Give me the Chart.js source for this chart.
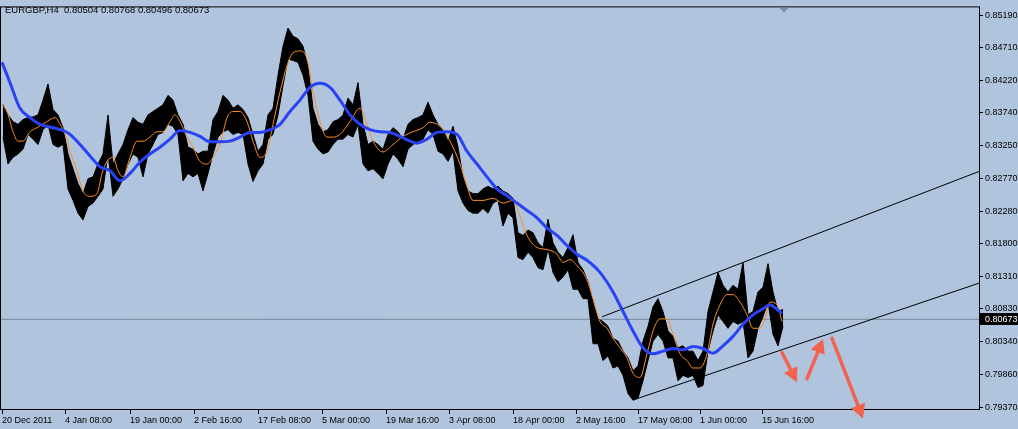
<!DOCTYPE html>
<html>
<head>
<meta charset="utf-8">
<script src="https://cdn.jsdelivr.net/npm/chart.js@4.4.1/dist/chart.umd.min.js"></script>
<style>
  html, body { margin: 0; padding: 0; background: #b0c4de; }
  canvas { display: block; }
</style>
</head>
<body>
<canvas id="chart" width="1018" height="429"></canvas>
<script>
// ─── Data ───────────────────────────────────────────────────────────────────

const symbolTitle = 'EURGBP,H4  0.80504 0.80768 0.80496 0.80673';
const lastPrice = 0.80673;

const yTicks = [0.85190, 0.84710, 0.84220, 0.83740, 0.83250, 0.82770, 0.82280,
                0.81800, 0.81310, 0.80830, 0.80340, 0.79860, 0.79370];

const xTickIdx = [2, 65, 130, 194, 258, 322, 386, 449, 513, 576, 638, 700, 762];
const xTickLabels = ['20 Dec 2011', '4 Jan 08:00', '19 Jan 00:00', '2 Feb 16:00',
  '17 Feb 08:00', '5 Mar 00:00', '19 Mar 16:00', '3 Apr 08:00', '18 Apr 00:00',
  '2 May 16:00', '17 May 08:00', '1 Jun 00:00', '15 Jun 16:00'];

// price range per group of bars (one group every 5 bars)
const hiVals = [
  0.8386, 0.8371, 0.8361, 0.8357, 0.8364, 0.8367, 0.8368, 0.8371, 0.8393, 0.8417,
  0.8379, 0.8371, 0.8352, 0.8313, 0.8291, 0.8269, 0.8254, 0.8276, 0.8279, 0.8298,
  0.8313, 0.8371, 0.8298, 0.8313, 0.8327, 0.8349, 0.8367, 0.8360, 0.8357, 0.8371,
  0.8376, 0.8381, 0.8386, 0.8400, 0.8393, 0.8371, 0.8357, 0.8323, 0.8320, 0.8313,
  0.8317, 0.8317, 0.8364, 0.8376, 0.8400, 0.8393, 0.8381, 0.8386, 0.8379, 0.8367,
  0.8342, 0.8317, 0.8327, 0.8371, 0.8381, 0.8430, 0.8473, 0.8500, 0.8488, 0.8484,
  0.8473, 0.8444, 0.8381, 0.8357, 0.8346, 0.8349, 0.8361, 0.8364, 0.8371, 0.8396,
  0.8386, 0.8419, 0.8357, 0.8327, 0.8332, 0.8327, 0.8320, 0.8342, 0.8352, 0.8346,
  0.8335, 0.8357, 0.8364, 0.8367, 0.8371, 0.8390, 0.8371, 0.8357, 0.8349, 0.8332,
  0.8354, 0.8323, 0.8279, 0.8258, 0.8254, 0.8254, 0.8261, 0.8265, 0.8261, 0.8265,
  0.8258, 0.8254, 0.8247, 0.8196, 0.8192, 0.8200, 0.8196, 0.8181, 0.8174, 0.8216,
  0.8181, 0.8167, 0.8159, 0.8174, 0.8193, 0.8152, 0.8141, 0.8123, 0.8093, 0.8068,
  0.8064, 0.8057, 0.8039, 0.8035, 0.8020, 0.8010, 0.7991, 0.7998, 0.8035, 0.8057,
  0.8086, 0.8098, 0.8079, 0.8050, 0.8042, 0.8025, 0.8028, 0.8020, 0.8020, 0.8006,
  0.8020, 0.8079, 0.8108, 0.8137, 0.8118, 0.8108, 0.8118, 0.8112, 0.8152, 0.8074,
  0.8079, 0.8108, 0.8115, 0.8150, 0.8108, 0.8079, 0.8082
];
const loVals = [
  0.8338, 0.8298, 0.8308, 0.8313, 0.8320, 0.8342, 0.8335, 0.8327, 0.8349, 0.8357,
  0.8327, 0.8323, 0.8327, 0.8261, 0.8244, 0.8225, 0.8215, 0.8235, 0.8240, 0.8250,
  0.8261, 0.8313, 0.8250, 0.8261, 0.8276, 0.8298, 0.8313, 0.8308, 0.8279, 0.8313,
  0.8327, 0.8342, 0.8345, 0.8357, 0.8354, 0.8342, 0.8273, 0.8284, 0.8279, 0.8284,
  0.8258, 0.8284, 0.8313, 0.8338, 0.8346, 0.8349, 0.8342, 0.8345, 0.8342, 0.8298,
  0.8272, 0.8288, 0.8298, 0.8335, 0.8342, 0.8371, 0.8415, 0.8454, 0.8452, 0.8449,
  0.8430, 0.8400, 0.8332, 0.8320, 0.8313, 0.8316, 0.8327, 0.8335, 0.8335, 0.8342,
  0.8338, 0.8357, 0.8298, 0.8288, 0.8291, 0.8284, 0.8276, 0.8298, 0.8313, 0.8305,
  0.8294, 0.8320, 0.8327, 0.8332, 0.8335, 0.8349, 0.8342, 0.8317, 0.8313, 0.8302,
  0.8317, 0.8258, 0.8240, 0.8229, 0.8225, 0.8225, 0.8232, 0.8225, 0.8240, 0.8244,
  0.8206, 0.8225, 0.8218, 0.8159, 0.8156, 0.8167, 0.8159, 0.8144, 0.8141, 0.8171,
  0.8137, 0.8123, 0.8130, 0.8141, 0.8112, 0.8112, 0.8098, 0.8098, 0.8031, 0.8031,
  0.8006, 0.8013, 0.7995, 0.7998, 0.7984, 0.7957, 0.7947, 0.7950, 0.7976, 0.8006,
  0.8035, 0.8045, 0.8035, 0.8010, 0.8010, 0.7976, 0.7984, 0.7981, 0.7984, 0.7966,
  0.7969, 0.8020, 0.8050, 0.8074, 0.8064, 0.8054, 0.8064, 0.8060, 0.8064, 0.8010,
  0.8020, 0.8054, 0.8071, 0.8093, 0.8045, 0.8028, 0.8057
];
const BAR_GROUP = 5;
const FIRST_BAR = 3;

// fast moving average (orange)
const fastIdx = [2, 7, 13, 18, 23, 30, 37, 43, 50, 55, 60, 65, 70, 77, 83, 90, 97, 102, 107, 113,
  118, 123, 130, 137, 143, 150, 157, 163, 170, 175, 180, 187, 193, 200, 207, 213, 220, 227, 233, 240,
  247, 253, 260, 267, 273, 280, 287, 293, 300, 307, 313, 320, 327, 333, 340, 350, 360, 367, 373, 383,
  393, 403, 413, 423, 430, 440, 450, 460, 467, 473, 483, 493, 503, 513, 520, 527, 537, 547, 557, 563,
  570, 577, 587, 593, 600, 607, 613, 620, 627, 633, 640, 647, 653, 660, 667, 673, 680, 687, 693, 700,
  707, 713, 720, 727, 733, 740, 747, 753, 760, 765, 770, 777, 782];
const fastVals = [0.8386, 0.8376, 0.8346, 0.8332, 0.8332, 0.8346, 0.8352, 0.8357, 0.8364, 0.8367,
  0.8357, 0.8342, 0.8317, 0.8288, 0.8258, 0.8250, 0.8254, 0.8284, 0.8302, 0.8308,
  0.8288, 0.8279, 0.8308, 0.8332, 0.8332, 0.8338, 0.8346, 0.8346, 0.8361, 0.8371,
  0.8361, 0.8338, 0.8323, 0.8302, 0.8298, 0.8308, 0.8327, 0.8367, 0.8376, 0.8376,
  0.8361, 0.8332, 0.8308, 0.8317, 0.8357, 0.8405, 0.8444, 0.8463, 0.8466, 0.8454,
  0.8405, 0.8361, 0.8338, 0.8338, 0.8342, 0.8361, 0.8381, 0.8357, 0.8332, 0.8316,
  0.8327, 0.8339, 0.8346, 0.8352, 0.8360, 0.8354, 0.8332, 0.8298, 0.8265, 0.8244,
  0.8244, 0.8247, 0.8240, 0.8244, 0.8221, 0.8192, 0.8174, 0.8171, 0.8164, 0.8152,
  0.8156, 0.8147, 0.8126, 0.8098, 0.8064, 0.8054, 0.8039, 0.8025, 0.8010, 0.7987,
  0.7981, 0.8016, 0.8050, 0.8068, 0.8068, 0.8045, 0.8016, 0.8006, 0.7995, 0.7995,
  0.8016, 0.8060, 0.8089, 0.8104, 0.8104, 0.8093, 0.8074, 0.8054, 0.8054, 0.8068,
  0.8093, 0.8089, 0.8064];

// slow moving average (blue)
const slowIdx = [2, 10, 20, 30, 40, 53, 63, 70, 80, 90, 100, 110, 120, 130, 140, 150, 160, 170, 180, 190,
  200, 210, 220, 230, 240, 250, 260, 270, 280, 290, 300, 310, 320, 330, 340, 350, 360, 370, 380, 390,
  400, 410, 417, 427, 437, 447, 457, 467, 477, 487, 497, 507, 517, 527, 537, 547, 557, 567, 577, 587,
  600, 613, 623, 633, 643, 653, 663, 673, 683, 693, 703, 713, 723, 733, 743, 753, 763, 770, 777, 782];
const slowVals = [0.8449, 0.8419, 0.8381, 0.8367, 0.8357, 0.8352, 0.8348, 0.8342, 0.8327, 0.8310,
  0.8294, 0.8288, 0.8273, 0.8284, 0.8301, 0.8313, 0.8323, 0.8335, 0.8348, 0.8345,
  0.8339, 0.8331, 0.8331, 0.8332, 0.8338, 0.8345, 0.8345, 0.8349, 0.8357, 0.8376,
  0.8393, 0.8412, 0.8418, 0.8412, 0.8393, 0.8371, 0.8357, 0.8349, 0.8346, 0.8345,
  0.8339, 0.8332, 0.8329, 0.8335, 0.8345, 0.8346, 0.8342, 0.8317, 0.8298, 0.8279,
  0.8261, 0.8251, 0.8240, 0.8229, 0.8218, 0.8203, 0.8192, 0.8177, 0.8164, 0.8155,
  0.8137, 0.8108, 0.8079, 0.8050, 0.8025, 0.8016, 0.8020, 0.8024, 0.8022, 0.8027,
  0.8024, 0.8017, 0.8028, 0.8042, 0.8060, 0.8074, 0.8083, 0.8089, 0.8082, 0.8076];

// trend channel (two hand-drawn lines), [bar, price]
const channelUpper = [[602, 0.8071], [979, 0.8287]];
const channelLower = [[636, 0.7949], [979, 0.8121]];

// red annotation arrows: [fromBar, fromPrice, toBar, toPrice]
const arrows = [
  [782, 0.8018, 797, 0.7974],
  [807, 0.7979, 823, 0.8038],
  [832, 0.8039, 863, 0.7920]
];
const shiftMarkBar = 784;

// ─── Scale bounds ───────────────────────────────────────────────────────────

const X_MIN = 1, X_MAX = 979;
const Y_MIN = 0.79326, Y_MAX = 0.85307;

const BG = '#b0c4de';
const FONT = '"Liberation Sans", Arial, sans-serif';

Chart.defaults.font.family = FONT;
Chart.defaults.font.size = 9;
Chart.defaults.color = '#000';

// ─── MT4 look: frame, title, price tag, arrows ──────────────────────────────

const mtDecor = {
  id: 'mtDecor',
  beforeDraw(chart) {
    const ctx = chart.ctx;
    ctx.save();
    ctx.fillStyle = BG;
    ctx.fillRect(0, 0, chart.width, chart.height);
    ctx.restore();
  },
  afterDraw(chart) {
    const ctx = chart.ctx;
    const area = chart.chartArea;
    const xs = chart.scales.x;
    const ys = chart.scales.y;

    ctx.save();
    // frame
    ctx.strokeStyle = '#000';
    ctx.lineWidth = 1;
    ctx.strokeRect(area.left - 0.5, area.top - 0.5, area.right - area.left + 1, area.bottom - area.top);

    // title
    ctx.fillStyle = '#000';
    ctx.font = '9.5px ' + FONT;
    ctx.textBaseline = 'alphabetic';
    ctx.textAlign = 'left';
    ctx.fillText(symbolTitle, 5, 13);

    // chart shift marker
    const sx = xs.getPixelForValue(shiftMarkBar);
    ctx.fillStyle = '#7d8ca6';
    ctx.beginPath();
    ctx.moveTo(sx - 5, area.top);
    ctx.lineTo(sx + 5, area.top);
    ctx.lineTo(sx, area.top + 5);
    ctx.closePath();
    ctx.fill();

    // last price tag
    const py = Math.round(ys.getPixelForValue(lastPrice));
    ctx.font = '9px ' + FONT;
    ctx.fillStyle = '#000';
    ctx.fillRect(area.right + 1, py - 6, chart.width - area.right - 1, 12);
    ctx.fillStyle = '#fff';
    ctx.textBaseline = 'middle';
    ctx.fillText(lastPrice.toFixed(5), area.right + 6, py + 0.5);

    // arrows
    ctx.strokeStyle = '#f1624f';
    ctx.fillStyle = '#f1624f';
    ctx.lineWidth = 3.5;
    ctx.lineCap = 'round';
    arrows.forEach(([b0, p0, b1, p1]) => {
      const x0 = xs.getPixelForValue(b0), y0 = ys.getPixelForValue(p0);
      const x1 = xs.getPixelForValue(b1), y1 = ys.getPixelForValue(p1);
      const ang = Math.atan2(y1 - y0, x1 - x0);
      const headLen = 14, headW = 7.5;
      const bx = x1 - headLen * Math.cos(ang), by = y1 - headLen * Math.sin(ang);
      ctx.beginPath();
      ctx.moveTo(x0, y0);
      ctx.lineTo(bx, by);
      ctx.stroke();
      ctx.beginPath();
      ctx.moveTo(x1, y1);
      ctx.lineTo(bx + headW * Math.sin(ang), by - headW * Math.cos(ang));
      ctx.lineTo(bx - headW * Math.sin(ang), by + headW * Math.cos(ang));
      ctx.closePath();
      ctx.fill();
    });
    ctx.restore();
  }
};

// ─── Datasets ───────────────────────────────────────────────────────────────

const barX = hiVals.map((_, i) => FIRST_BAR + i * BAR_GROUP);

const datasets = [
  {
    label: 'High',
    data: hiVals.map((v, i) => ({ x: barX[i], y: v })),
    borderColor: '#000',
    borderWidth: 1,
    pointRadius: 0,
    tension: 0,
    fill: false,
    order: 5
  },
  {
    label: 'Low',
    data: loVals.map((v, i) => ({ x: barX[i], y: v })),
    borderColor: '#000',
    backgroundColor: '#000',
    borderWidth: 1,
    pointRadius: 0,
    tension: 0,
    fill: '-1',
    order: 4
  },
  {
    label: 'Bid',
    data: [{ x: X_MIN, y: lastPrice }, { x: X_MAX, y: lastPrice }],
    borderColor: '#778899',
    borderWidth: 1,
    pointRadius: 0,
    order: 6
  },
  {
    label: 'Channel upper',
    data: channelUpper.map(([x, y]) => ({ x, y })),
    borderColor: '#000',
    borderWidth: 1,
    pointRadius: 0,
    order: 3
  },
  {
    label: 'Channel lower',
    data: channelLower.map(([x, y]) => ({ x, y })),
    borderColor: '#000',
    borderWidth: 1,
    pointRadius: 0,
    order: 3
  },
  {
    label: 'Fast MA',
    data: fastVals.map((v, i) => ({ x: fastIdx[i], y: v })),
    borderColor: '#ff8c1a',
    borderWidth: 1,
    pointRadius: 0,
    cubicInterpolationMode: 'monotone',
    order: 2
  },
  {
    label: 'Slow MA',
    data: slowVals.map((v, i) => ({ x: slowIdx[i], y: v })),
    borderColor: '#2a42f5',
    borderWidth: 3,
    pointRadius: 0,
    cubicInterpolationMode: 'monotone',
    order: 1
  }
];

new Chart(document.getElementById('chart'), {
  type: 'line',
  data: { datasets },
  plugins: [mtDecor],
  options: {
    responsive: false,
    animation: false,
    events: [],
    layout: { padding: { left: 1, top: 1, right: 0, bottom: 0 } },
    plugins: {
      legend: { display: false },
      tooltip: { enabled: false }
    },
    scales: {
      x: {
        type: 'linear',
        min: X_MIN,
        max: X_MAX,
        afterFit: (s) => { s.height = 19; },
        afterBuildTicks: (s) => { s.ticks = xTickIdx.map(v => ({ value: v })); },
        ticks: {
          autoSkip: false,
          maxRotation: 0,
          align: 'start',
          padding: 1,
          callback: (v) => xTickLabels[xTickIdx.indexOf(v)]
        },
        grid: { drawOnChartArea: false, drawTicks: true, tickLength: 4, color: '#000' },
        border: { display: false }
      },
      y: {
        type: 'linear',
        position: 'right',
        min: Y_MIN,
        max: Y_MAX,
        afterFit: (s) => { s.width = 39; },
        afterBuildTicks: (s) => { s.ticks = yTicks.map(v => ({ value: v })); },
        ticks: {
          padding: 2,
          callback: (v) => v.toFixed(5)
        },
        grid: { drawOnChartArea: false, drawTicks: true, tickLength: 4, color: '#000' },
        border: { display: false }
      }
    }
  }
});
</script>
</body>
</html>
